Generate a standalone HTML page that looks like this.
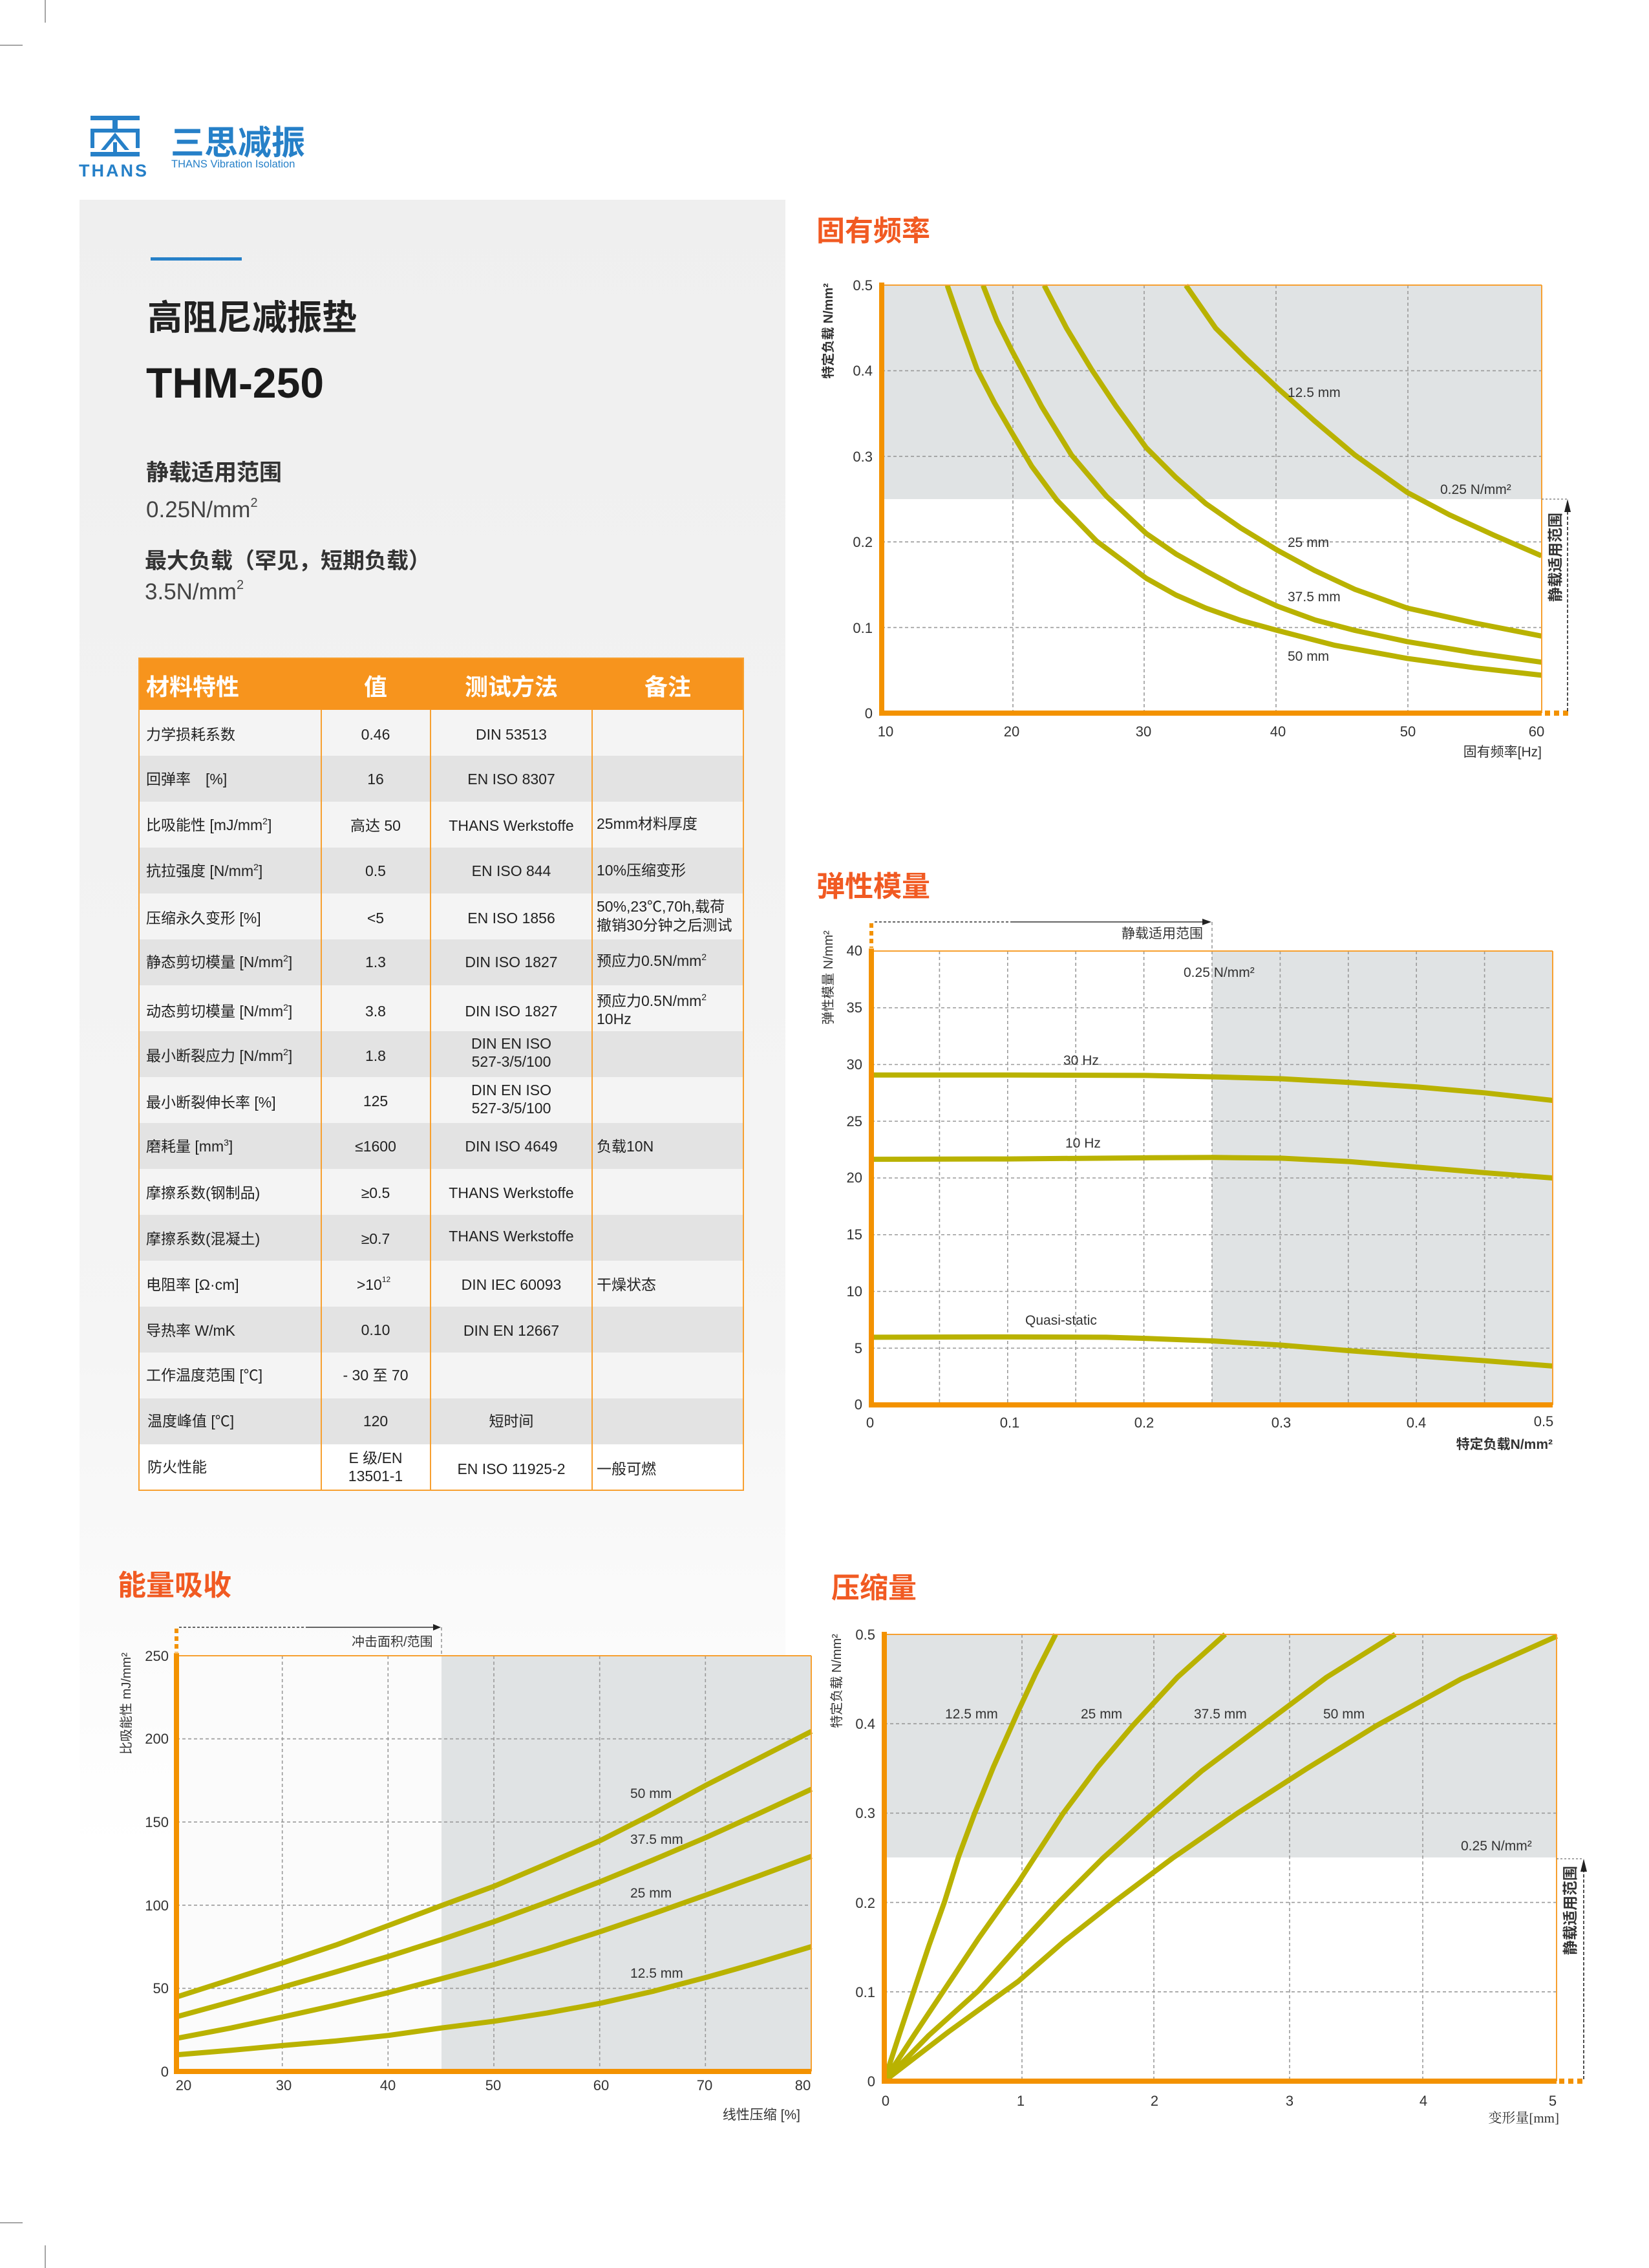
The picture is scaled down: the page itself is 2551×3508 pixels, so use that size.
<!DOCTYPE html>
<html><head><meta charset="utf-8"><style>
html,body{margin:0;padding:0;background:#fff}
svg{display:block}
text{font-family:"Liberation Sans","Noto Sans CJK SC",sans-serif}
.c{fill:none;stroke:#b9b200;stroke-width:8;vector-effect:non-scaling-stroke;stroke-linejoin:round;stroke-linecap:butt}
.g{stroke:#9a9a9a;stroke-width:1.6;stroke-dasharray:5 4;fill:none}
.tk{font-size:22px;fill:#333}
.lb{font-size:21px;fill:#333}
.ttl{font-size:44px;font-weight:bold;fill:#f15a22}
.th{font-size:36px;font-weight:bold;fill:#fff}
.td{font-size:23px;fill:#222}
</style></head><body>
<svg width="2551" height="3508" viewBox="0 0 2551 3508" xmlns="http://www.w3.org/2000/svg">
<defs>
<linearGradient id="pg" x1="0" y1="0" x2="0" y2="1">
<stop offset="0" stop-color="#efefef"/><stop offset="0.7" stop-color="#f5f5f5"/><stop offset="1" stop-color="#ffffff"/>
</linearGradient>
<marker id="ar" markerWidth="10" markerHeight="10" refX="5" refY="5" orient="auto"><path d="M0,1 L9,5 L0,9 z" fill="#222"/></marker>
</defs>
<rect width="2551" height="3508" fill="#fff"/>
<!-- crop marks -->
<g stroke="#888" stroke-width="1.5">
<line x1="0" y1="70" x2="35" y2="70"/><line x1="70" y1="0" x2="70" y2="35"/>
<line x1="0" y1="3438" x2="35" y2="3438"/><line x1="70" y1="3473" x2="70" y2="3508"/>
</g>
<!-- left panel -->
<rect x="123" y="309" width="1092" height="2550" fill="url(#pg)"/>
<!-- logo -->
<g fill="#2680c8">
<rect x="140" y="179" width="76" height="7"/>
<rect x="140" y="199" width="76" height="6"/>
<rect x="140" y="235" width="76" height="7"/>
<rect x="174" y="186" width="8" height="16"/>
<rect x="140" y="205" width="6" height="24"/>
<rect x="210" y="205" width="6" height="24"/>
<path d="M178,205 L200,232 L193,232 L178,214 L163,232 L156,232 Z"/>
<rect x="175" y="220" width="6" height="15"/>
</g>
<text x="122" y="273" font-size="27" font-weight="bold" fill="#2680c8" letter-spacing="3">THANS</text>
<text x="264" y="239" font-size="52" font-weight="bold" fill="#2680c8">三思减振</text>
<text x="265" y="259" font-size="16.5" fill="#2680c8">THANS Vibration Isolation</text>
<!-- heading -->
<rect x="233" y="398" width="141" height="5" fill="#2680c8"/>
<text x="228" y="510" font-size="54" font-weight="bold" fill="#222">高阻尼减振垫</text>
<text x="226" y="615" font-size="66" font-weight="bold" fill="#1a1a1a">THM-250</text>
<text x="226" y="743" font-size="35" font-weight="bold" fill="#333">静载适用范围</text>
<text x="226" y="800" font-size="35" fill="#444">0.25N/mm<tspan font-size="20" dy="-16">2</tspan></text>
<text x="224" y="879" font-size="34" font-weight="bold" fill="#333">最大负载（罕见，短期负载）</text>
<text x="224" y="927" font-size="35" fill="#444">3.5N/mm<tspan font-size="20" dy="-16">2</tspan></text>
<!-- table -->
<rect x="215" y="1018" width="935" height="80" fill="#f7941d"/>
<text class="th" x="226" y="1075">材料特性</text>
<text class="th" x="581" y="1075" text-anchor="middle">值</text>
<text class="th" x="791" y="1075" text-anchor="middle">测试方法</text>
<text class="th" x="1033" y="1075" text-anchor="middle">备注</text>
<g>
<rect x="215" y="1098" width="935" height="71" fill="#f4f4f4"/>
<rect x="215" y="1169" width="935" height="71" fill="#e3e3e3"/>
<rect x="215" y="1240" width="935" height="71" fill="#f4f4f4"/>
<rect x="215" y="1311" width="935" height="71" fill="#e3e3e3"/>
<rect x="215" y="1382" width="935" height="71" fill="#f4f4f4"/>
<rect x="215" y="1453" width="935" height="71" fill="#e3e3e3"/>
<rect x="215" y="1524" width="935" height="71" fill="#f4f4f4"/>
<rect x="215" y="1595" width="935" height="71" fill="#e3e3e3"/>
<rect x="215" y="1666" width="935" height="71" fill="#f4f4f4"/>
<rect x="215" y="1737" width="935" height="71" fill="#e3e3e3"/>
<rect x="215" y="1808" width="935" height="71" fill="#f4f4f4"/>
<rect x="215" y="1879" width="935" height="71" fill="#e3e3e3"/>
<rect x="215" y="1950" width="935" height="71" fill="#f4f4f4"/>
<rect x="215" y="2021" width="935" height="71" fill="#e3e3e3"/>
<rect x="215" y="2092" width="935" height="71" fill="#f4f4f4"/>
<rect x="215" y="2163" width="935" height="71" fill="#e3e3e3"/>
<rect x="215" y="2234" width="935" height="71" fill="#ffffff"/>
</g>
<g stroke="#f7a030" stroke-width="2" fill="none">
<rect x="215" y="1018" width="935" height="1287"/>
<line x1="497" y1="1098" x2="497" y2="2305"/>
<line x1="666" y1="1098" x2="666" y2="2305"/>
<line x1="916" y1="1098" x2="916" y2="2305"/>
</g>
<g class="td">
<text x="226" y="1144">力学损耗系数</text><text x="581" y="1144" text-anchor="middle">0.46</text><text x="791" y="1144" text-anchor="middle">DIN 53513</text>
<text x="226" y="1213">回弹率　[%]</text><text x="581" y="1213" text-anchor="middle">16</text><text x="791" y="1213" text-anchor="middle">EN ISO 8307</text>
<text x="226" y="1284">比吸能性 [mJ/mm<tspan font-size="14" dy="-9">2</tspan><tspan dy="9">]</tspan></text><text x="581" y="1285" text-anchor="middle">高达 50</text><text x="791" y="1285" text-anchor="middle">THANS Werkstoffe</text><text x="923" y="1282">25mm材料厚度</text>
<text x="226" y="1355">抗拉强度 [N/mm<tspan font-size="14" dy="-9">2</tspan><tspan dy="9">]</tspan></text><text x="581" y="1355" text-anchor="middle">0.5</text><text x="791" y="1355" text-anchor="middle">EN ISO 844</text><text x="923" y="1354">10%压缩变形</text>
<text x="226" y="1428">压缩永久变形 [%]</text><text x="581" y="1428" text-anchor="middle">&lt;5</text><text x="791" y="1428" text-anchor="middle">EN ISO 1856</text><text x="923" y="1410">50%,23℃,70h,载荷</text><text x="923" y="1439">撤销30分钟之后测试</text>
<text x="226" y="1496">静态剪切模量 [N/mm<tspan font-size="14" dy="-9">2</tspan><tspan dy="9">]</tspan></text><text x="581" y="1496" text-anchor="middle">1.3</text><text x="791" y="1496" text-anchor="middle">DIN ISO 1827</text><text x="923" y="1494">预应力0.5N/mm<tspan font-size="14" dy="-9">2</tspan></text>
<text x="226" y="1572">动态剪切模量 [N/mm<tspan font-size="14" dy="-9">2</tspan><tspan dy="9">]</tspan></text><text x="581" y="1572" text-anchor="middle">3.8</text><text x="791" y="1572" text-anchor="middle">DIN ISO 1827</text><text x="923" y="1556">预应力0.5N/mm<tspan font-size="14" dy="-9">2</tspan></text><text x="923" y="1584">10Hz</text>
<text x="226" y="1641">最小断裂应力 [N/mm<tspan font-size="14" dy="-9">2</tspan><tspan dy="9">]</tspan></text><text x="581" y="1641" text-anchor="middle">1.8</text><text x="791" y="1622" text-anchor="middle">DIN EN ISO</text><text x="791" y="1650" text-anchor="middle">527-3/5/100</text>
<text x="226" y="1713">最小断裂伸长率 [%]</text><text x="581" y="1711" text-anchor="middle">125</text><text x="791" y="1694" text-anchor="middle">DIN EN ISO</text><text x="791" y="1722" text-anchor="middle">527-3/5/100</text>
<text x="226" y="1781">磨耗量 [mm<tspan font-size="14" dy="-9">3</tspan><tspan dy="9">]</tspan></text><text x="581" y="1781" text-anchor="middle">≤1600</text><text x="791" y="1781" text-anchor="middle">DIN ISO 4649</text><text x="923" y="1781">负载10N</text>
<text x="226" y="1853">摩擦系数(钢制品)</text><text x="581" y="1853" text-anchor="middle">≥0.5</text><text x="791" y="1853" text-anchor="middle">THANS Werkstoffe</text>
<text x="226" y="1924">摩擦系数(混凝土)</text><text x="581" y="1924" text-anchor="middle">≥0.7</text><text x="791" y="1920" text-anchor="middle">THANS Werkstoffe</text>
<text x="226" y="1995">电阻率 [Ω·cm]</text><text x="578" y="1995" text-anchor="middle">&gt;10<tspan font-size="12" dy="-12">12</tspan></text><text x="791" y="1995" text-anchor="middle">DIN IEC 60093</text><text x="923" y="1995">干燥状态</text>
<text x="226" y="2066">导热率 W/mK</text><text x="581" y="2065" text-anchor="middle">0.10</text><text x="791" y="2066" text-anchor="middle">DIN EN 12667</text>
<text x="226" y="2135">工作温度范围 [℃]</text><text x="581" y="2135" text-anchor="middle">- 30 至 70</text>
<text x="228" y="2206">温度峰值 [℃]</text><text x="581" y="2206" text-anchor="middle">120</text><text x="791" y="2206" text-anchor="middle">短时间</text>
<text x="228" y="2277">防火性能</text><text x="581" y="2263" text-anchor="middle">E 级/EN</text><text x="581" y="2291" text-anchor="middle">13501-1</text><text x="791" y="2280" text-anchor="middle">EN ISO 11925-2</text><text x="923" y="2280">一般可燃</text>
</g>

<!-- ============ Chart 1: 固有频率 ============ -->
<text class="ttl" x="1263" y="372">固有频率</text>
<rect x="1364" y="441" width="1021" height="331" fill="#e0e3e4"/>
<g class="g">
<line x1="1567" y1="441" x2="1567" y2="1103"/><line x1="1770" y1="441" x2="1770" y2="1103"/><line x1="1974" y1="441" x2="1974" y2="1103"/><line x1="2178" y1="441" x2="2178" y2="1103"/>
<line x1="1364" y1="970.6" x2="2385" y2="970.6"/><line x1="1364" y1="838.2" x2="2385" y2="838.2"/><line x1="1364" y1="705.8" x2="2385" y2="705.8"/><line x1="1364" y1="573.4" x2="2385" y2="573.4"/>
</g>
<g transform="translate(1250,300) scale(0.76923,0.57703)">
<polyline class="c" points="760,245 820,360 880,440 944,520 1020,610 1100,700 1205,800 1290,860 1380,915 1475,970"/>
<polyline class="c" points="475,245 520,360 570,470 620,570 680,680 740,760 800,830 870,895 944,955 1020,1010 1100,1060 1205,1110 1340,1150 1475,1185"/>
<polyline class="c" points="352,245 380,340 410,420 470,570 530,700 600,810 680,910 740,965 800,1010 870,1060 944,1105 1020,1142 1100,1170 1205,1200 1340,1230 1475,1255"/>
<polyline class="c" points="280,245 310,360 340,470 375,560 410,640 450,730 500,820 580,930 680,1030 740,1075 800,1110 870,1143 944,1170 1060,1210 1205,1245 1340,1270 1475,1290"/>
</g>
<g fill="none">
<line x1="2385" y1="441" x2="2385" y2="1103" stroke="#f7a030" stroke-width="2"/>
<line x1="1364" y1="441" x2="2385" y2="441" stroke="#f7a030" stroke-width="2"/>
<line x1="1364" y1="437" x2="1364" y2="1107" stroke="#f39200" stroke-width="8"/>
<line x1="1360" y1="1103" x2="2385" y2="1103" stroke="#f39200" stroke-width="8"/>
<line x1="2390" y1="1103" x2="2430" y2="1103" stroke="#f39200" stroke-width="8" stroke-dasharray="8 6"/>
<line x1="2385" y1="772" x2="2425" y2="772" stroke="#888" stroke-width="1.5" stroke-dasharray="3 3"/>
<line x1="2425" y1="1100" x2="2425" y2="790" stroke="#222" stroke-width="1.6" stroke-dasharray="5 3"/>
<path d="M2425,772 L2420,792 L2430,792 Z" fill="#222"/>
</g>
<text transform="translate(2414,862) rotate(-90)" text-anchor="middle" font-size="23" font-weight="bold" fill="#333">静载适用范围</text>
<g class="tk" text-anchor="end">
<text x="1350" y="449">0.5</text><text x="1350" y="581">0.4</text><text x="1350" y="714">0.3</text><text x="1350" y="846">0.2</text><text x="1350" y="979">0.1</text><text x="1350" y="1111">0</text>
</g>
<g class="tk" text-anchor="middle">
<text x="1370" y="1139">10</text><text x="1565" y="1139">20</text><text x="1769" y="1139">30</text><text x="1977" y="1139">40</text><text x="2178" y="1139">50</text><text x="2377" y="1139">60</text>
</g>
<text x="2385" y="1170" text-anchor="end" font-size="21" fill="#333">固有频率[Hz]</text>
<text transform="translate(1288,512) rotate(-90)" text-anchor="middle" font-size="20" font-weight="bold" fill="#333">特定负载 N/mm²</text>
<g class="lb">
<text x="1992" y="614">12.5 mm</text><text x="2228" y="764">0.25 N/mm²</text><text x="1992" y="846">25 mm</text><text x="1992" y="930">37.5 mm</text><text x="1992" y="1022">50 mm</text>
</g>

<!-- ============ Chart 2: 弹性模量 ============ -->
<text class="ttl" x="1263" y="1386">弹性模量</text>
<rect x="1875" y="1471" width="527" height="702" fill="#e0e3e4"/>
<g class="g">
<line x1="1453.4" y1="1471" x2="1453.4" y2="2173"/><line x1="1558.8" y1="1471" x2="1558.8" y2="2173"/><line x1="1664.2" y1="1471" x2="1664.2" y2="2173"/><line x1="1769.6" y1="1471" x2="1769.6" y2="2173"/><line x1="1875" y1="1426" x2="1875" y2="2173"/><line x1="1980.4" y1="1471" x2="1980.4" y2="2173"/><line x1="2085.8" y1="1471" x2="2085.8" y2="2173"/><line x1="2191.2" y1="1471" x2="2191.2" y2="2173"/><line x1="2296.6" y1="1471" x2="2296.6" y2="2173"/>
<line x1="1348" y1="2085.25" x2="2402" y2="2085.25"/><line x1="1348" y1="1997.5" x2="2402" y2="1997.5"/><line x1="1348" y1="1909.75" x2="2402" y2="1909.75"/><line x1="1348" y1="1822" x2="2402" y2="1822"/><line x1="1348" y1="1734.25" x2="2402" y2="1734.25"/><line x1="1348" y1="1646.5" x2="2402" y2="1646.5"/><line x1="1348" y1="1558.75" x2="2402" y2="1558.75"/>
</g>
<g transform="translate(1250,1380) scale(0.76923,0.57703)">
<polyline class="c" points="127,490 400,490 677,491 816,495 951,500 1088,510 1225,522 1362,538 1497,558"/>
<polyline class="c" points="127,716 400,715 677,712 816,711 951,713 1088,722 1225,737 1362,752 1497,766"/>
<polyline class="c" points="127,1193 400,1192 600,1193 677,1196 816,1203 951,1214 1088,1229 1225,1243 1362,1256 1497,1270"/>
</g>
<g fill="none">
<line x1="1348" y1="1471" x2="2402" y2="1471" stroke="#f7a030" stroke-width="2"/>
<line x1="2402" y1="1471" x2="2402" y2="2173" stroke="#f7a030" stroke-width="2"/>
<line x1="1348" y1="1467" x2="1348" y2="2177" stroke="#f39200" stroke-width="8"/>
<line x1="1344" y1="2173" x2="2402" y2="2173" stroke="#f39200" stroke-width="8"/>
<line x1="1348" y1="1428" x2="1348" y2="1466" stroke="#f39200" stroke-width="6" stroke-dasharray="7 5"/>
<line x1="1353" y1="1426" x2="1565" y2="1426" stroke="#333" stroke-width="1.5" stroke-dasharray="4 3"/>
<line x1="1565" y1="1426" x2="1862" y2="1426" stroke="#333" stroke-width="1.5"/>
<path d="M1874,1426 L1860,1421 L1860,1431 Z" fill="#222"/>
</g>
<text x="1735" y="1451" font-size="21" fill="#333">静载适用范围</text>
<g class="tk" text-anchor="end">
<text x="1334" y="1478">40</text><text x="1334" y="1566">35</text><text x="1334" y="1654">30</text><text x="1334" y="1742">25</text><text x="1334" y="1829">20</text><text x="1334" y="1917">15</text><text x="1334" y="2005">10</text><text x="1334" y="2093">5</text><text x="1334" y="2180">0</text>
</g>
<g class="tk" text-anchor="middle">
<text x="1346" y="2208">0</text><text x="1562" y="2208">0.1</text><text x="1770" y="2208">0.2</text><text x="1982" y="2208">0.3</text><text x="2191" y="2208">0.4</text><text x="2388" y="2206">0.5</text>
</g>
<text x="2402" y="2241" text-anchor="end" font-size="21" font-weight="bold" fill="#333">特定负载N/mm²</text>
<text transform="translate(1288,1512) rotate(-90)" text-anchor="middle" font-size="20" fill="#333">弹性模量 N/mm²</text>
<g class="lb">
<text x="1831" y="1511">0.25 N/mm²</text><text x="1645" y="1647">30 Hz</text><text x="1648" y="1775">10 Hz</text><text x="1586" y="2049">Quasi-static</text>
</g>

<!-- ============ Chart 3: 能量吸收 ============ -->
<text class="ttl" x="182" y="2467">能量吸收</text>
<rect x="273" y="2561" width="410" height="643" fill="#fbfbfb"/>
<rect x="683" y="2561" width="572" height="643" fill="#e0e3e4"/>
<g class="g">
<line x1="436.7" y1="2561" x2="436.7" y2="3204"/><line x1="600.3" y1="2561" x2="600.3" y2="3204"/><line x1="764" y1="2561" x2="764" y2="3204"/><line x1="927.7" y1="2561" x2="927.7" y2="3204"/><line x1="1091.3" y1="2561" x2="1091.3" y2="3204"/>
<line x1="273" y1="3075.4" x2="1255" y2="3075.4"/><line x1="273" y1="2946.8" x2="1255" y2="2946.8"/><line x1="273" y1="2818.2" x2="1255" y2="2818.2"/><line x1="273" y1="2689.6" x2="1255" y2="2689.6"/>
<line x1="683" y1="2517" x2="683" y2="2561"/>
</g>
<g transform="translate(150,2450) scale(0.76923,0.57703)">
<polyline class="c" points="160,1107 270,1060 375,1015 480,968 587,915 693,862 799,810 905,750 1012,688 1118,616 1224,540 1330,468 1437,395"/>
<polyline class="c" points="160,1160 270,1120 375,1080 480,1040 587,998 693,953 799,905 905,853 1012,798 1118,740 1224,680 1330,616 1437,550"/>
<polyline class="c" points="160,1218 270,1190 375,1160 480,1129 587,1095 693,1058 799,1020 905,978 1012,932 1118,884 1224,834 1330,783 1437,730"/>
<polyline class="c" points="160,1262 270,1250 375,1237 480,1225 587,1210 693,1190 799,1172 905,1150 1012,1124 1118,1092 1224,1055 1330,1015 1437,972"/>
</g>
<g fill="none">
<line x1="273" y1="2561" x2="1255" y2="2561" stroke="#f7a030" stroke-width="2"/>
<line x1="1255" y1="2561" x2="1255" y2="3204" stroke="#f7a030" stroke-width="2"/>
<line x1="273" y1="2557" x2="273" y2="3208" stroke="#f39200" stroke-width="8"/>
<line x1="269" y1="3204" x2="1255" y2="3204" stroke="#f39200" stroke-width="8"/>
<line x1="273" y1="2519" x2="273" y2="2556" stroke="#f39200" stroke-width="6" stroke-dasharray="7 5"/>
<line x1="277" y1="2517" x2="473" y2="2517" stroke="#333" stroke-width="1.5" stroke-dasharray="4 3"/>
<line x1="473" y1="2517" x2="672" y2="2517" stroke="#333" stroke-width="1.5"/>
<path d="M682,2517 L670,2512 L670,2522 Z" fill="#222"/>
</g>
<text x="544" y="2546" font-size="20" fill="#333">冲击面积/范围</text>
<g class="tk" text-anchor="end">
<text x="261" y="2569">250</text><text x="261" y="2697">200</text><text x="261" y="2826">150</text><text x="261" y="2955">100</text><text x="261" y="3083">50</text><text x="261" y="3212">0</text>
</g>
<g class="tk" text-anchor="middle">
<text x="284" y="3233">20</text><text x="439" y="3233">30</text><text x="600" y="3233">40</text><text x="763" y="3233">50</text><text x="930" y="3233">60</text><text x="1090" y="3233">70</text><text x="1242" y="3233">80</text>
</g>
<text x="1238" y="3278" text-anchor="end" font-size="21" fill="#333">线性压缩 [%]</text>
<text transform="translate(202,2635) rotate(-90)" text-anchor="middle" font-size="20" fill="#333">比吸能性 mJ/mm²</text>
<g class="lb">
<text x="975" y="2781">50 mm</text><text x="975" y="2852">37.5 mm</text><text x="975" y="2935">25 mm</text><text x="975" y="3059">12.5 mm</text>
</g>

<!-- ============ Chart 4: 压缩量 ============ -->
<text class="ttl" x="1286" y="2471">压缩量</text>
<rect x="1368" y="2528" width="1040" height="345" fill="#e0e3e4"/>
<g class="g">
<line x1="1581" y1="2528" x2="1581" y2="3219"/><line x1="1785" y1="2528" x2="1785" y2="3219"/><line x1="1995" y1="2528" x2="1995" y2="3219"/><line x1="2201" y1="2528" x2="2201" y2="3219"/>
<line x1="1368" y1="3080.8" x2="2408" y2="3080.8"/><line x1="1368" y1="2942.6" x2="2408" y2="2942.6"/><line x1="1368" y1="2804.4" x2="2408" y2="2804.4"/><line x1="1368" y1="2666.2" x2="2408" y2="2666.2"/>
</g>
<g transform="translate(1260,2450) scale(0.76923,0.57703)">
<polyline class="c" points="140,1333 170,1210 200,1090 230,970 262,850 290,730 322,615 360,490 410,340 445,240 485,135"/>
<polyline class="c" points="140,1333 200,1210 260,1090 330,950 410,800 500,615 570,490 640,380 730,250 826,135"/>
<polyline class="c" points="140,1333 230,1210 330,1090 410,970 490,855 580,735 680,615 780,500 900,380 1030,250 1168,135"/>
<polyline class="c" points="140,1333 270,1200 410,1065 500,960 600,855 720,735 850,615 990,495 1130,380 1300,255 1493,140"/>
</g>
<g fill="none">
<line x1="1368" y1="2528" x2="2408" y2="2528" stroke="#f7a030" stroke-width="2"/>
<line x1="2408" y1="2528" x2="2408" y2="3219" stroke="#f7a030" stroke-width="2"/>
<line x1="1368" y1="2524" x2="1368" y2="3223" stroke="#f39200" stroke-width="8"/>
<line x1="1364" y1="3219" x2="2408" y2="3219" stroke="#f39200" stroke-width="8"/>
<line x1="2412" y1="3219" x2="2452" y2="3219" stroke="#f39200" stroke-width="8" stroke-dasharray="8 6"/>
<line x1="2408" y1="2875" x2="2450" y2="2875" stroke="#888" stroke-width="1.5" stroke-dasharray="3 3"/>
<line x1="2450" y1="3216" x2="2450" y2="2893" stroke="#222" stroke-width="1.6" stroke-dasharray="5 3"/>
<path d="M2450,2875 L2445,2895 L2455,2895 Z" fill="#222"/>
</g>
<text transform="translate(2437,2955) rotate(-90)" text-anchor="middle" font-size="23" font-weight="bold" fill="#333">静载适用范围</text>
<g class="tk" text-anchor="end">
<text x="1354" y="2536">0.5</text><text x="1354" y="2674">0.4</text><text x="1354" y="2812">0.3</text><text x="1354" y="2951">0.2</text><text x="1354" y="3089">0.1</text><text x="1354" y="3227">0</text>
</g>
<g class="tk" text-anchor="middle">
<text x="1370" y="3257">0</text><text x="1579" y="3257">1</text><text x="1786" y="3257">2</text><text x="1995" y="3257">3</text><text x="2202" y="3257">4</text><text x="2402" y="3257">5</text>
</g>
<text x="2412" y="3283" text-anchor="end" font-size="21" fill="#333" style="font-family:'Liberation Serif','Noto Serif CJK SC',serif">变形量[mm]</text>
<text transform="translate(1301,2600) rotate(-90)" text-anchor="middle" font-size="20" fill="#333">特定负载 N/mm²</text>
<g class="lb">
<text x="1462" y="2658">12.5 mm</text><text x="1672" y="2658">25 mm</text><text x="1847" y="2658">37.5 mm</text><text x="2047" y="2658">50 mm</text><text x="2260" y="2862">0.25 N/mm²</text>
</g>
</svg>
</body></html>
